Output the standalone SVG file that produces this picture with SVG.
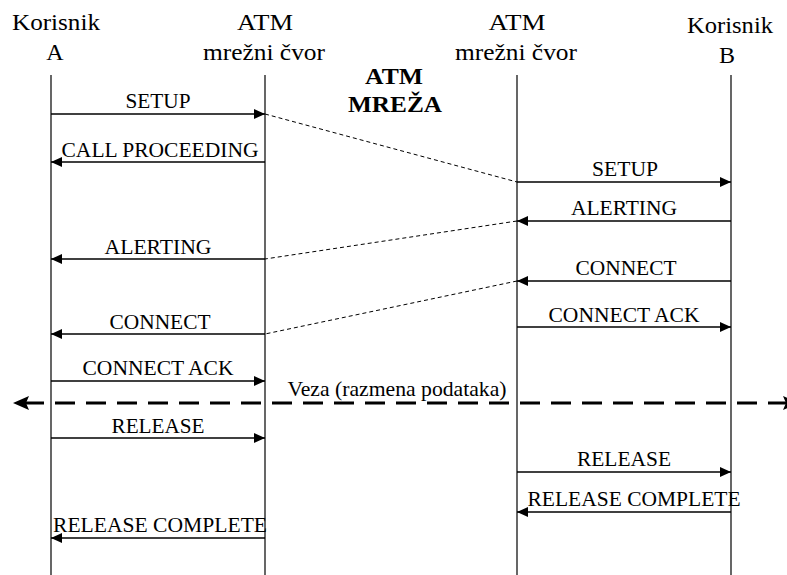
<svg xmlns="http://www.w3.org/2000/svg" width="787" height="575" viewBox="0 0 787 575">
  <style>
    .hdr { font-family: "Liberation Serif", "Times New Roman", serif; font-size: 24px; fill: #000; text-anchor: middle; }
    .ttl { font-family: "Liberation Serif", "Times New Roman", serif; font-size: 24px; font-weight: bold; fill: #000; text-anchor: middle; }
    .lbl { font-family: "Liberation Serif", "Times New Roman", serif; font-size: 21px; fill: #000; text-anchor: middle; }
    .life { stroke: #000; stroke-width: 1.2; fill: none; }
    .msg { stroke: #000; stroke-width: 1.3; fill: none; marker-end: url(#arrow); }
    .relay { stroke: #000; stroke-width: 1; fill: none; stroke-dasharray: 4 3; }
    .link { stroke: #000; stroke-width: 3; fill: none; stroke-dasharray: 20 11; }
  </style>
  <defs>
    <marker id="arrow" markerUnits="userSpaceOnUse" markerWidth="12" markerHeight="11" refX="11" refY="5" orient="auto">
      <path d="M0,0 L11,5 L0,10 z" fill="#000"/>
    </marker>
  </defs>
  <rect width="787" height="575" fill="#fff"/>

  <!-- participants -->
  <g id="user-a">
    <text class="hdr" x="56" y="30" textLength="88" lengthAdjust="spacingAndGlyphs">Korisnik</text>
    <text class="hdr" x="55" y="60">A</text>
    <line class="life" x1="51" y1="75" x2="51" y2="575"/>
  </g>
  <g id="node-1">
    <text class="hdr" x="265" y="30" textLength="56" lengthAdjust="spacingAndGlyphs">ATM</text>
    <text class="hdr" x="264" y="60" textLength="122" lengthAdjust="spacingAndGlyphs">mrežni čvor</text>
    <line class="life" x1="265" y1="75" x2="265" y2="575"/>
  </g>
  <g id="node-2">
    <text class="hdr" x="517" y="30" textLength="57" lengthAdjust="spacingAndGlyphs">ATM</text>
    <text class="hdr" x="516" y="60" textLength="122" lengthAdjust="spacingAndGlyphs">mrežni čvor</text>
    <line class="life" x1="517" y1="75" x2="517" y2="575"/>
  </g>
  <g id="user-b">
    <text class="hdr" x="730" y="33" textLength="86" lengthAdjust="spacingAndGlyphs">Korisnik</text>
    <text class="hdr" x="727" y="63">B</text>
    <line class="life" x1="731" y1="75" x2="731" y2="575"/>
  </g>
  <g id="network">
    <text class="ttl" x="394" y="84" textLength="58" lengthAdjust="spacingAndGlyphs">ATM</text>
    <text class="ttl" x="395" y="112" textLength="94" lengthAdjust="spacingAndGlyphs">MREŽA</text>
  </g>

  <!-- messages -->
  <g id="connectors">
    <line class="msg" x1="51" y1="114" x2="265" y2="114"/>
    <text class="lbl" x="158" y="108" textLength="65" lengthAdjust="spacingAndGlyphs">SETUP</text>

    <line class="msg" x1="265" y1="162" x2="51" y2="162"/>
    <text class="lbl" x="160" y="157" textLength="197" lengthAdjust="spacingAndGlyphs">CALL PROCEEDING</text>

    <line class="relay" x1="265" y1="114" x2="517" y2="182"/>

    <line class="msg" x1="517" y1="182" x2="731" y2="182"/>
    <text class="lbl" x="625" y="176" textLength="66" lengthAdjust="spacingAndGlyphs">SETUP</text>

    <line class="msg" x1="731" y1="221" x2="517" y2="221"/>
    <text class="lbl" x="624" y="215" textLength="106" lengthAdjust="spacingAndGlyphs">ALERTING</text>

    <line class="relay" x1="517" y1="221" x2="265" y2="259"/>

    <line class="msg" x1="265" y1="259" x2="51" y2="259"/>
    <text class="lbl" x="158" y="254" textLength="107" lengthAdjust="spacingAndGlyphs">ALERTING</text>

    <line class="msg" x1="731" y1="281" x2="517" y2="281"/>
    <text class="lbl" x="626" y="275" textLength="101" lengthAdjust="spacingAndGlyphs">CONNECT</text>

    <line class="relay" x1="517" y1="281" x2="265" y2="334"/>

    <line class="msg" x1="517" y1="327" x2="731" y2="327"/>
    <text class="lbl" x="624" y="322" textLength="151" lengthAdjust="spacingAndGlyphs">CONNECT ACK</text>

    <line class="msg" x1="265" y1="334" x2="51" y2="334"/>
    <text class="lbl" x="160" y="329" textLength="101" lengthAdjust="spacingAndGlyphs">CONNECT</text>

    <line class="msg" x1="51" y1="381" x2="265" y2="381"/>
    <text class="lbl" x="158" y="375" textLength="151" lengthAdjust="spacingAndGlyphs">CONNECT ACK</text>

    <!-- data exchange across the whole path -->
    <line class="link" x1="24" y1="403" x2="790" y2="403"/>
    <polygon points="13,403 29,396 26,403 29,410" fill="#000"/>
    <polygon points="799,403 783,396 786,403 783,410" fill="#000"/>
    <text class="lbl" x="397" y="396" textLength="219" lengthAdjust="spacingAndGlyphs">Veza (razmena podataka)</text>

    <line class="msg" x1="51" y1="438" x2="265" y2="438"/>
    <text class="lbl" x="158" y="433" textLength="93" lengthAdjust="spacingAndGlyphs">RELEASE</text>

    <line class="msg" x1="517" y1="472" x2="731" y2="472"/>
    <text class="lbl" x="624" y="466" textLength="94" lengthAdjust="spacingAndGlyphs">RELEASE</text>

    <line class="msg" x1="731" y1="512" x2="517" y2="512"/>
    <text class="lbl" x="634" y="506" textLength="213" lengthAdjust="spacingAndGlyphs">RELEASE COMPLETE</text>

    <line class="msg" x1="265" y1="538" x2="51" y2="538"/>
    <text class="lbl" x="160" y="532" textLength="214" lengthAdjust="spacingAndGlyphs">RELEASE COMPLETE</text>
  </g>
</svg>
